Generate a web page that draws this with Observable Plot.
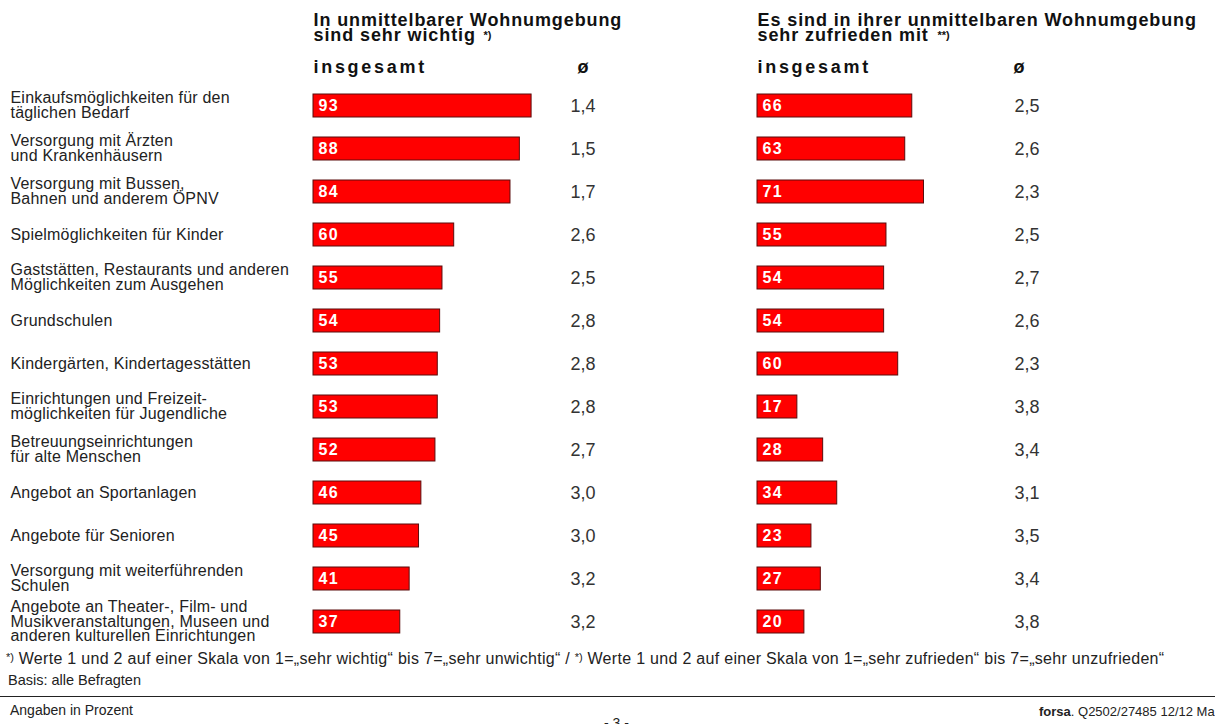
<!DOCTYPE html>
<html>
<head>
<meta charset="utf-8">
<script src="https://cdn.jsdelivr.net/npm/d3@7"></script>
<script src="https://cdn.jsdelivr.net/npm/@observablehq/plot@0.6"></script>
<style>
  html, body { margin: 0; padding: 0; background: #fff; }
  #page { position: relative; width: 1215px; height: 724px; overflow: hidden; font-family: "Liberation Sans", Arial, sans-serif; color: #222; }
  #chart { position: absolute; left: 0; top: 0; }
  #chart svg { font-family: "Liberation Sans", Arial, sans-serif; }
  .foot { position: absolute; font-size: 14px; line-height: 20px; white-space: nowrap; }
  .foot sup { font-size: 11px; vertical-align: top; position: relative; top: -2px; letter-spacing: 0; }
  #rule { position: absolute; left: 0; top: 696px; width: 1215px; height: 0; border-top: 1.5px solid #222; }
</style>
</head>
<body>
<div id="page">
  <div id="chart"></div>
  <div class="foot" style="left:6px; top:649px; font-size:16px; letter-spacing:0.3px;"><sup>*)</sup> Werte 1 und 2 auf einer Skala von 1=„sehr wichtig“ bis 7=„sehr unwichtig“ / <sup>*)</sup> Werte 1 und 2 auf einer Skala von 1=„sehr zufrieden“ bis 7=„sehr unzufrieden“</div>
  <div class="foot" style="left:8px; top:670px; font-size:14.5px;">Basis: alle Befragten</div>
  <div id="rule"></div>
  <div class="foot" style="left:10px; top:700px;">Angaben in Prozent</div>
  <div class="foot" style="left:604px; top:713px;">- 3 -</div>
  <div class="foot" style="left:1039px; top:702px; font-size:13px;"><b>forsa</b>. Q2502/27485 12/12 Ma</div>
</div>
<script>
const categories = [
  "Einkaufsmöglichkeiten für den\ntäglichen Bedarf",
  "Versorgung mit Ärzten\nund Krankenhäusern",
  "Versorgung mit Bussen,\nBahnen und anderem ÖPNV",
  "Spielmöglichkeiten für Kinder",
  "Gaststätten, Restaurants und anderen\nMöglichkeiten zum Ausgehen",
  "Grundschulen",
  "Kindergärten, Kindertagesstätten",
  "Einrichtungen und Freizeit-\nmöglichkeiten für Jugendliche",
  "Betreuungseinrichtungen\nfür alte Menschen",
  "Angebot an Sportanlagen",
  "Angebote für Senioren",
  "Versorgung mit weiterführenden\nSchulen",
  "Angebote an Theater-, Film- und\nMusikveranstaltungen, Museen und\nanderen kulturellen Einrichtungen"
];
const wichtigPct = [93, 88, 84, 60, 55, 54, 53, 53, 52, 46, 45, 41, 37];
const wichtigAvg = ["1,4", "1,5", "1,7", "2,6", "2,5", "2,8", "2,8", "2,8", "2,7", "3,0", "3,0", "3,2", "3,2"];
const zufriedenPct = [66, 63, 71, 55, 54, 54, 60, 17, 28, 34, 23, 27, 20];
const zufriedenAvg = ["2,5", "2,6", "2,3", "2,5", "2,7", "2,6", "2,3", "3,8", "3,4", "3,1", "3,5", "3,4", "3,8"];
const panels = ["wichtig", "zufrieden"];
const headerTitles = ["In unmittelbarer Wohnumgebung\nsind sehr wichtig", "Es sind in ihrer unmittelbaren Wohnumgebung\nsehr zufrieden mit"];
const headerNotes = ["*)", "**)"];
const subHeader = "insgesamt";
const avgSymbol = "ø";

const rows = categories.flatMap((cat, i) => [
  {panel: panels[0], cat, pct: wichtigPct[i], avg: wichtigAvg[i]},
  {panel: panels[1], cat, pct: zufriedenPct[i], avg: zufriedenAvg[i]}
]);
const labelRows = categories.map(cat => ({panel: panels[0], cat}));
const headerRows = panels.map((p, i) => ({panel: p, title: headerTitles[i], note: headerNotes[i]}));

const pxPerUnit = 2.345;
const panelWidth = 444;
const avgX = 257 / pxPerUnit;

const chart = Plot.plot({
  width: 1215,
  height: 645,
  marginLeft: 313,
  marginRight: 14,
  marginTop: 82,
  marginBottom: 0,
  fx: {domain: panels, padding: 0, axis: null},
  x: {domain: [0, panelWidth / pxPerUnit], axis: null},
  y: {domain: categories, padding: 0, axis: null},
  marks: [
    Plot.barX(rows, {fx: "panel", y: "cat", x: "pct", fill: "#ff0000", stroke: "#5a0d0d", strokeWidth: 1, insetTop: 10, insetBottom: 10}),
    Plot.text(rows, {fx: "panel", y: "cat", x: 0, text: d => String(d.pct), dx: 5, textAnchor: "start", fill: "#ffffff", fontWeight: "bold", fontSize: 16}),
    Plot.text(rows, {fx: "panel", y: "cat", x: avgX, text: "avg", textAnchor: "start", fill: "#333", fontSize: 18}),
    Plot.text(labelRows, {fx: "panel", y: "cat", text: "cat", frameAnchor: "left", dx: -303, textAnchor: "start", lineHeight: 0.9, fontSize: 16, fill: "#222"}),
    Plot.text(headerRows, {fx: "panel", text: "title", frameAnchor: "top-left", lineAnchor: "top", textAnchor: "start", dy: 28 - 0.71 * 18 - 82, lineHeight: 15 / 18, fontSize: 18, fontWeight: "bold", fill: "#111"}),
    Plot.text(headerRows.filter(d => d.panel === panels[0]), {fx: "panel", text: "note", frameAnchor: "top-left", lineAnchor: "top", textAnchor: "start", dx: 170, dy: 31 - 82, fontSize: 11, fontWeight: "bold", fill: "#111"}),
    Plot.text(headerRows.filter(d => d.panel === panels[1]), {fx: "panel", text: "note", frameAnchor: "top-left", lineAnchor: "top", textAnchor: "start", dx: 180, dy: 31 - 82, fontSize: 11, fontWeight: "bold", fill: "#111"}),
    Plot.text(headerRows, {fx: "panel", text: () => subHeader, frameAnchor: "top-left", lineAnchor: "top", textAnchor: "start", dy: 72 - 0.71 * 18 - 82, fontSize: 18, fontWeight: "bold", fill: "#111"}),
    Plot.text(headerRows.filter(d => d.panel === panels[0]), {fx: "panel", text: () => avgSymbol, frameAnchor: "top-left", lineAnchor: "top", textAnchor: "start", dx: 264, dy: 72 - 0.71 * 18 - 82, fontSize: 18, fontWeight: "bold", fill: "#111"}),
    Plot.text(headerRows.filter(d => d.panel === panels[1]), {fx: "panel", text: () => avgSymbol, frameAnchor: "top-left", lineAnchor: "top", textAnchor: "start", dx: 256, dy: 72 - 0.71 * 18 - 82, fontSize: 18, fontWeight: "bold", fill: "#111"})
  ]
});
document.getElementById("chart").appendChild(chart);

// letter spacing tweaks to match the reference typography
const svg = d3.select(chart);
svg.selectAll("text").each(function() {
  if (this.textContent === subHeader) d3.select(this).style("letter-spacing", "2.7px");
});
svg.selectAll("text").filter(function() {
  return this.querySelector("tspan") && headerTitles.some(h => h.replace(/\n/g, "") === this.textContent);
}).style("letter-spacing", "0.9px");
svg.selectAll("g[fill='#ffffff'] text").style("letter-spacing", "1.4px");
svg.selectAll("g[fill='#222'] text").style("letter-spacing", "0.2px");
</script>
</body>
</html>
